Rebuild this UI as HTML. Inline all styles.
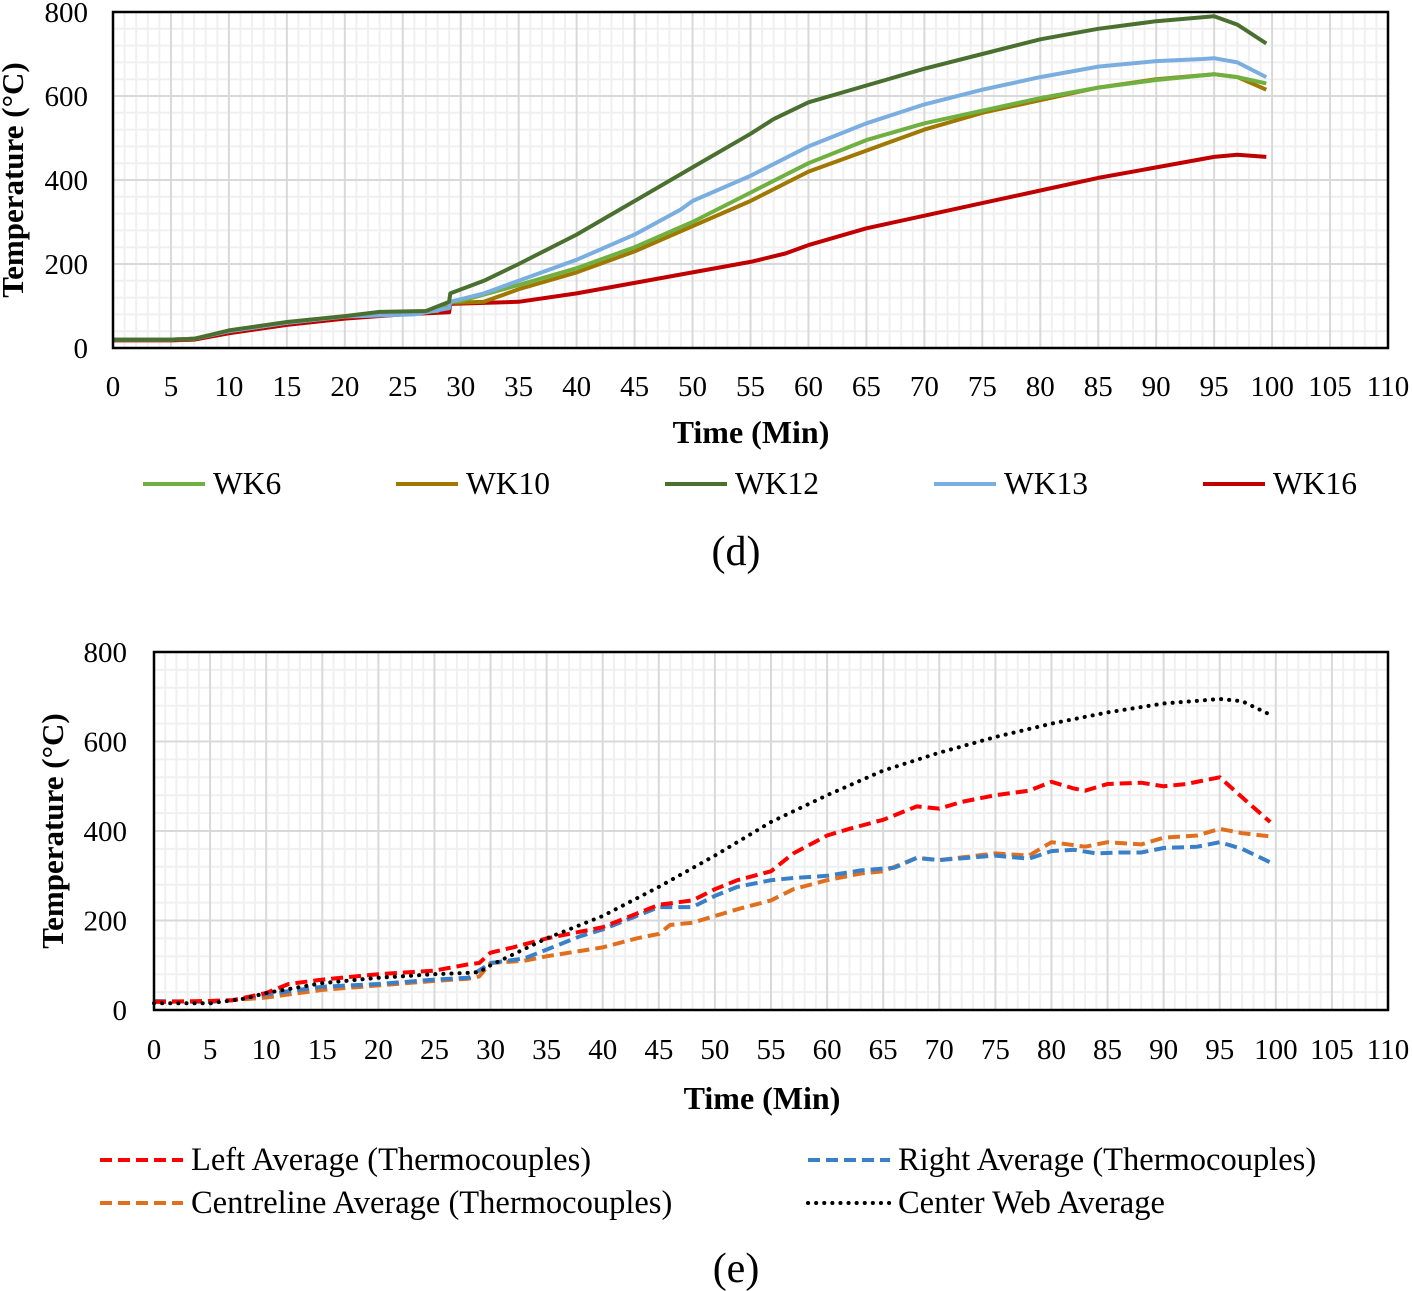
<!DOCTYPE html>
<html><head><meta charset="utf-8">
<style>
html,body{margin:0;padding:0;background:#fff;}
svg{display:block;font-family:"Liberation Serif",serif;}
</style></head>
<body>
<svg id="fig" width="1412" height="1291" viewBox="0 0 1412 1291"></svg>
<script>
const xTicks=[0,5,10,15,20,25,30,35,40,45,50,55,60,65,70,75,80,85,90,95,100,105,110];
const yTicks=[0,200,400,600,800];
// Chart (d)
const d_t_wk6=[0,5,7,10,15,20,25,28,29,30,35,40,45,50,55,60,65,70,75,80,85,90,95,97,99.5];
const d_v_wk6=[20,20,22,40,60,75,85,88,110,112,150,190,240,300,370,440,495,535,565,595,620,638,652,645,630];
const d_t_wk10=[0,5,7,10,15,20,25,28,29,30,32,35,40,45,50,55,60,65,70,75,80,85,90,95,97,99.5];
const d_v_wk10=[20,20,22,40,60,75,85,88,108,108,110,140,180,230,290,350,420,470,520,560,590,620,640,652,645,615];
const d_t_wk12=[0,5,7,10,15,20,23,27,29,29.1,32,35,40,45,50,55,57,60,65,70,75,80,85,90,95,97,99.5];
const d_v_wk12=[20,20,22,42,62,76,86,88,110,130,160,200,270,350,430,510,545,585,625,665,700,735,760,778,790,770,725];
const d_t_wk13=[0,5,7,10,15,20,26,29,29.1,32,35,40,45,49,50,55,60,65,70,75,80,85,90,94,95,97,99.5];
const d_v_wk13=[20,20,22,40,60,75,80,95,110,130,160,210,270,330,350,410,480,535,580,615,645,670,683,688,690,680,645];
const d_t_wk16=[0,5,7,10,15,20,25,29,29.1,35,40,45,50,55,58,60,65,70,75,80,85,90,95,97,99.5];
const d_v_wk16=[18,18,20,35,55,70,80,85,105,110,130,155,180,205,225,245,285,315,345,375,405,430,455,460,455];
// Chart (e)
const e_t_left=[0,5,7,10,12,15,20,25,28,29,30,32,35,40,45,48,50,52,55,57,60,62,65,68,70,72,75,78,80,82,83,85,88,90,92,95,97,99.5];
const e_v_left=[18,20,22,38,58,68,80,88,102,105,128,140,160,185,235,245,270,290,310,350,390,405,425,455,450,465,480,490,510,495,490,505,508,500,505,520,475,420];
const e_t_right=[0,5,7,10,15,20,25,28,30,33,35,38,40,45,48,50,52,55,57,60,63,66,68,70,75,78,80,82,84,86,88,90,93,95,97,99.5];
const e_v_right=[20,18,22,35,52,58,68,72,105,115,135,165,180,230,230,255,275,290,295,300,312,318,340,335,345,338,355,358,350,352,352,362,365,375,360,330];
const e_t_centre=[0,5,7,10,15,20,25,28,29,30,33,35,40,43,45,46,48,50,52,55,57,60,63,65,68,70,75,78,80,83,85,88,90,93,95,97,99.5];
const e_v_centre=[18,20,22,28,45,55,65,70,75,105,110,120,140,160,170,190,195,210,225,245,270,290,305,310,340,335,350,345,375,365,375,370,385,390,405,395,388];
const e_t_web=[0,5,8,10,15,20,25,28,29,30,35,40,45,50,55,60,65,70,75,80,85,90,95,97,99.5];
const e_v_web=[15,15,25,38,60,72,80,83,85,100,160,210,275,345,420,480,535,575,610,640,665,685,695,690,660];

const NS="http://www.w3.org/2000/svg";
const svg=document.getElementById('fig');
function mk(tag,attrs,parent){const e=document.createElementNS(NS,tag);for(const k in attrs)e.setAttribute(k,attrs[k]);(parent||svg).appendChild(e);return e;}

function chart(name,L,T,R,B,ylx,xly,ytitleX,xtitleX,xtitleY,series){
  const g=mk('g',{});
  
  
  const sx=v=>L+(v/110)*(R-L);
  const sy=v=>B-(v/800)*(B-T);
  for(let i=1;i<110;i++){if(i%5)mk('line',{x1:sx(i),x2:sx(i),y1:T,y2:B,stroke:'#f0f0f0','stroke-width':2},g);}
  for(let v=40;v<800;v+=40){if(v%200)mk('line',{x1:L,x2:R,y1:sy(v),y2:sy(v),stroke:'#f0f0f0','stroke-width':2},g);}
  for(let i=5;i<110;i+=5){mk('line',{x1:sx(i),x2:sx(i),y1:T,y2:B,stroke:'#d9d9d9','stroke-width':2},g);}
  for(let v=200;v<800;v+=200){mk('line',{x1:L,x2:R,y1:sy(v),y2:sy(v),stroke:'#d9d9d9','stroke-width':2},g);}
  series.forEach(s=>{
    const p=s.t.map((t,i)=>sx(t).toFixed(1)+','+sy(s.v[i]).toFixed(1)).join(' ');
    const a={points:p,fill:'none',stroke:s.c,'stroke-width':s.w||4,'stroke-linejoin':'round'};
    if(s.dash){a['stroke-dasharray']=s.dash;}
    if(s.cap)a['stroke-linecap']=s.cap;
    const pl=mk('polyline',a,g);
    
    
  });
  const fr=mk('rect',{x:L,y:T,width:R-L,height:B-T,fill:'none',stroke:'#000','stroke-width':2.5},g);
  
  
  yTicks.forEach(v=>{const t=mk('text',{x:ylx,y:sy(v)+10,'text-anchor':'end','font-size':29},g);t.textContent=v;
    
    });
  xTicks.forEach(v=>{const t=mk('text',{x:sx(v),y:xly,'text-anchor':'middle','font-size':29},g);t.textContent=v;
    
    });
  const yt=mk('text',{x:0,y:0,'text-anchor':'middle','font-size':31,'font-weight':'bold',transform:`translate(${ytitleX},${(T+B)/2}) rotate(-90)`},g);
  yt.textContent='Temperature (°C)';
  
  
  const xt=mk('text',{x:xtitleX,y:xtitleY,'text-anchor':'middle','font-size':32,'font-weight':'bold'},g);
  xt.textContent='Time (Min)';
  
  
}

chart('chart-d',113,12,1388,348,88,396,23,751,443,[
 {t:d_t_wk16,v:d_v_wk16,c:'#c00000',n:'series-wk16'},
 {t:d_t_wk10,v:d_v_wk10,c:'#a07800',n:'series-wk10'},
 {t:d_t_wk6,v:d_v_wk6,c:'#70b040',n:'series-wk6'},
 {t:d_t_wk13,v:d_v_wk13,c:'#7aaee0',n:'series-wk13'},
 {t:d_t_wk12,v:d_v_wk12,c:'#4a7030',n:'series-wk12'},
]);
chart('chart-e',154,652,1388,1010,127,1059,63,762,1109,[
 {t:e_t_centre,v:e_v_centre,c:'#e07020',n:'series-centreline-average',dash:'12 6'},
 {t:e_t_right,v:e_v_right,c:'#3a80c8',n:'series-right-average',dash:'12 6'},
 {t:e_t_left,v:e_v_left,c:'#ff0000',n:'series-left-average',dash:'12 6'},
 {t:e_t_web,v:e_v_web,c:'#000',n:'series-center-web-average',dash:'0.1 8',cap:'round'},
]);

function legend(x1,x2,y,c,label,fs,dash,cap){
  const g=mk('g',{});
  
  
  const a={x1:x1,x2:x2,y1:y,y2:y,stroke:c,'stroke-width':4};
  if(dash)a['stroke-dasharray']=dash;
  if(cap)a['stroke-linecap']=cap;
  mk('line',a,g);
  const t=mk('text',{x:x2+8,y:y+10,'font-size':fs},g);t.textContent=label;
}
legend(143,205,484,'#70b040','WK6',31.5);
legend(396,458,484,'#a07800','WK10',31.5);
legend(665,727,484,'#4a7030','WK12',31.5);
legend(934,996,484,'#7aaee0','WK13',31.5);
legend(1203,1265,484,'#c00000','WK16',31.5);
legend(100,183,1160,'#ff0000','Left Average (Thermocouples)',32.5,'12 6');
legend(808,890,1160,'#3a80c8','Right Average (Thermocouples)',32.5,'12 6');
legend(100,183,1203,'#e07020','Centreline Average (Thermocouples)',32.5,'12 6');
legend(808,890,1203,'#000','Center Web Average',32.5,'0.1 8','round');

const cd=mk('text',{x:736,y:565,'text-anchor':'middle','font-size':42});cd.textContent='(d)';


const ce=mk('text',{x:736,y:1282,'text-anchor':'middle','font-size':42});ce.textContent='(e)';


</script>
</body></html>
